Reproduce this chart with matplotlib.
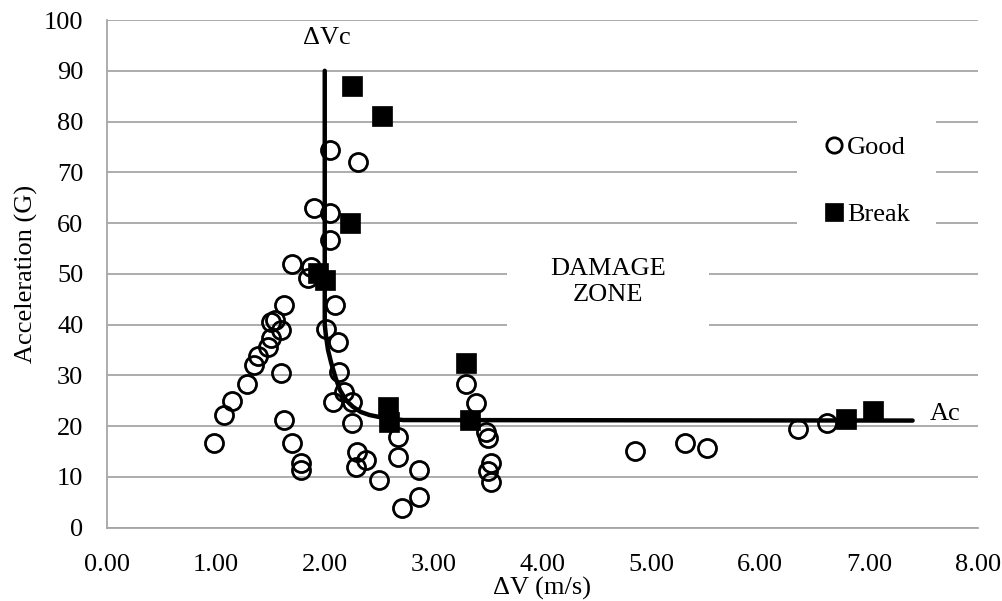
import matplotlib
matplotlib.use("Agg")
import matplotlib.pyplot as plt
from matplotlib.patches import Rectangle

plt.rcParams['font.family'] = ['Liberation Serif', 'DejaVu Serif']

# Good samples (delta V in m/s, acceleration in G)
good_dv = [0.985, 1.07, 1.15, 1.29, 1.35, 1.39, 1.48, 1.51, 1.51, 1.54,
           1.60, 1.63, 1.70, 1.60, 1.625, 1.70, 1.78, 1.78, 1.87, 1.85,
           2.05, 2.31, 1.90, 2.05, 2.05, 2.09, 2.01, 2.12, 2.13, 2.18,
           2.08, 2.25, 2.25, 2.30, 2.38, 2.29, 2.50, 2.67, 2.675, 2.87,
           2.87, 2.71, 3.30, 3.39, 3.48, 3.50, 3.53, 3.50, 3.53,
           4.85, 5.31, 5.51, 6.35, 6.61]
good_acc = [16.7, 22.1, 25.0, 28.4, 32.0, 33.8, 35.5, 37.3, 40.6, 40.9,
            38.9, 43.9, 51.9, 30.4, 21.3, 16.7, 12.7, 11.4, 51.4, 49.1,
            74.3, 72.0, 63.0, 62.0, 56.7, 43.9, 39.1, 36.6, 30.6, 26.7,
            24.7, 24.8, 20.7, 15.0, 13.3, 12.0, 9.4, 17.9, 14.0, 11.4,
            6.1, 3.8, 28.4, 24.6, 18.9, 17.7, 12.7, 11.2, 8.9,
            15.2, 16.7, 15.6, 19.4, 20.6]

# Broken samples
break_dv = [2.25, 2.53, 2.23, 1.94, 2.00, 2.58, 2.59, 3.30, 3.33, 6.79, 7.04]
break_acc = [87.0, 81.0, 60.0, 50.1, 48.8, 23.8, 20.9, 32.4, 21.3, 21.5, 23.0]

# Damage boundary curve (critical delta V and critical acceleration)
bound_dv = [2.00, 2.00, 2.00, 2.01, 2.03, 2.06, 2.10, 2.14, 2.20, 2.26,
            2.33, 2.41, 2.50, 2.60, 2.72, 7.40]
bound_acc = [90.0, 60.0, 40.0, 38.0, 35.0, 32.4, 29.5, 27.1, 25.0, 23.8,
             22.8, 22.2, 21.8, 21.5, 21.2, 21.1]

x_ticks = [0, 1, 2, 3, 4, 5, 6, 7, 8]
y_ticks = [0, 10, 20, 30, 40, 50, 60, 70, 80, 90, 100]

fig = plt.figure(figsize=(10.03, 6.01), dpi=100)
ax = fig.add_axes([0.1067, 0.122, 0.8683, 0.8447])

ax.set_xlim(0, 8)
ax.set_ylim(0, 100)
ax.set_xticks(x_ticks)
ax.set_xticklabels([f"{t:.2f}" for t in x_ticks])
ax.set_yticks(y_ticks)
ax.grid(axis='y', color='#a6a6a6', linewidth=1.3, zorder=0)
ax.set_axisbelow(True)
ax.tick_params(length=0, labelsize=19)
ax.tick_params(axis='y', pad=17)
ax.tick_params(axis='x', pad=19)
for side in ['top', 'right']:
    ax.spines[side].set_visible(False)
for side in ['left', 'bottom']:
    ax.spines[side].set_color('#a6a6a6')
    ax.spines[side].set_linewidth(1.3)

ax.plot(bound_dv, bound_acc, color='black', linewidth=3.2, zorder=3,
        solid_capstyle='round')

ax.plot(good_dv, good_acc, linestyle='none', marker='o', markersize=13,
        markerfacecolor='none', markeredgecolor='black', markeredgewidth=2,
        label='Good', zorder=4)
ax.plot(break_dv, break_acc, linestyle='none', marker='s', markersize=14.5,
        markerfacecolor='black', markeredgecolor='black', markeredgewidth=0.5,
        label='Break', zorder=5)

ax.text(2.02, 96.5, "\u0394Vc", fontsize=19, ha='center', va='center')
ax.text(7.70, 22.4, "Ac", fontsize=19, ha='center', va='center')

# white text box behind the zone label, hides the gridlines like the original
ax.add_patch(Rectangle((3.67, 31.5), 1.86, 25.5, facecolor='white',
                       edgecolor='none', zorder=1))
ax.text(4.60, 48.4, "DAMAGE\nZONE", fontsize=19, ha='center', va='center',
        linespacing=1.2, zorder=2)

leg = ax.legend(loc='upper left', bbox_to_anchor=(0.792, 0.824), fontsize=19,
                frameon=True, handletextpad=0.1, handlelength=0.8,
                borderpad=1.0, borderaxespad=0.0, labelspacing=1.65,
                markerscale=0.85)
leg.get_frame().set_facecolor('white')
leg.get_frame().set_edgecolor('none')
leg.get_frame().set_alpha(1.0)
leg.get_frame().set_boxstyle('square', pad=0)

ax.set_xlabel("\u0394V (m/s)", fontsize=19, labelpad=0.5)
ax.set_ylabel("Acceleration (G)", fontsize=19, labelpad=4)

fig.savefig("out.png", dpi=100)
